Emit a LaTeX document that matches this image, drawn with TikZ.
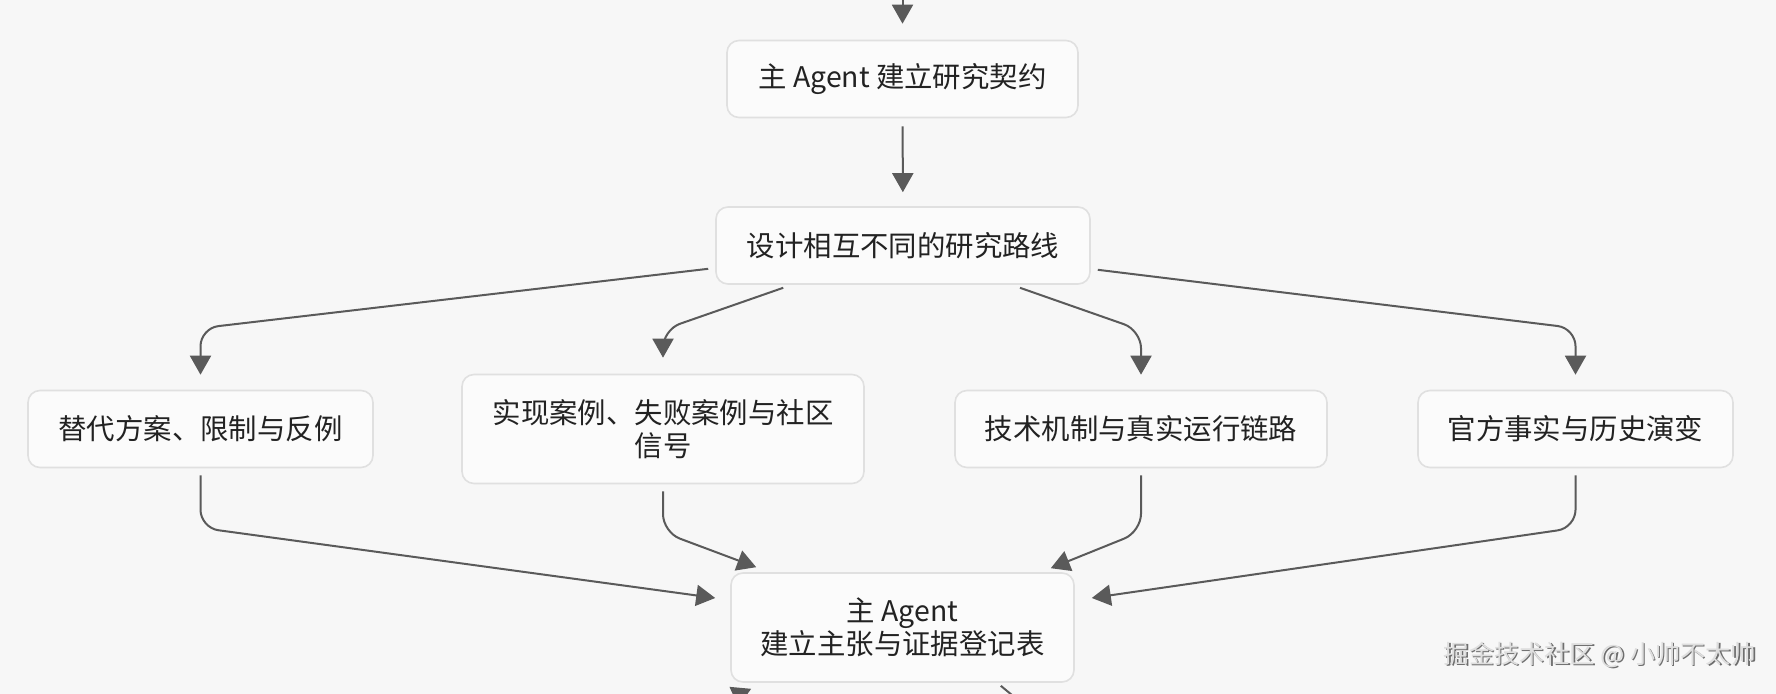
\documentclass[tikz,border=0pt]{standalone}
\usepackage{fontspec}
\setmainfont{Noto Sans CJK SC}
\usepackage{tikz}
\usetikzlibrary{arrows.meta,positioning}
\definecolor{bg}{HTML}{F7F7F7}
\definecolor{boxfill}{HTML}{FBFBFB}
\definecolor{boxline}{HTML}{E0E0E0}
\definecolor{flowline}{HTML}{5A5A5A}
\definecolor{textcol}{HTML}{222222}
\definecolor{markfg}{HTML}{DEDEDE}
\definecolor{markbg}{HTML}{6E6E6E}
\tikzset{
        % Step boxes
        node_box/.style={align=center, rectangle, rounded corners=6pt, draw=boxline, line width=0.8pt, fill=boxfill, text=textcol, inner sep=0pt, minimum height=38.5pt, font=\fontsize{14.2pt}{16.5pt}\selectfont},
        % Two-line step boxes
        node_tall/.style={node_box, minimum height=54.5pt},
        % Connectors
        line_flow/.style={->, draw=flowline, fill=none, line width=1pt, rounded corners=9pt},
        % Watermark text
        node_mark/.style={inner sep=0pt, font=\fontsize{12.6pt}{14pt}\selectfont}
}
\begin{document}
\begin{tikzpicture}[x=0.5pt, y=-0.5pt, >={Triangle[length=9.5pt,width=10.5pt]}]
    \fill[bg] (0,0) rectangle (1776,694);
    \useasboundingbox (0,0) rectangle (1776,694);
    \clip (0,0) rectangle (1776,694);

    \node[node_box, minimum width=175.5pt] (contract) at (902.5,79) {主 Agent 建立研究契约};
    \node[node_box, minimum width=187pt] (routes) at (903,245.5) {设计相互不同的研究路线};
    \node[node_box, minimum width=172.5pt] (alt) at (200.5,429) {替代方案、限制与反例};
    \node[node_tall, minimum width=201pt] (cases) at (663,429) {实现案例、失败案例与社区\\信号};
    \node[node_box, minimum width=186pt] (mech) at (1141,429) {技术机制与真实运行链路};
    \node[node_box, minimum width=157.5pt] (facts) at (1575.5,429) {官方事实与历史演变};
    \node[node_tall, minimum width=171.5pt] (register) at (902.5,627.5) {主 Agent\\建立主张与证据登记表};

    \coordinate (entry) at (902.5,-10);
    \coordinate (loop_in) at (700,712);
    \coordinate (loop_out) at (1030,710);

    \draw[line_flow, shorten >=8pt] (entry) -- (contract);
    \draw[line_flow, shorten <=4pt, shorten >=7pt] (contract) -- (routes);

    \draw[line_flow, shorten >=7.5pt] ([xshift=-3.5pt,yshift=8pt]routes.south west) -- ([yshift=30.75pt]alt.north) -- (alt.north);
    \draw[line_flow, shorten >=8pt] ([xshift=34pt,yshift=-1.5pt]routes.south west) -- ([yshift=22pt]cases.north) -- (cases.north);
    \draw[line_flow, shorten >=7.5pt] ([xshift=58.5pt,yshift=-1.5pt]routes.south) -- ([yshift=29.75pt]mech.north) -- (mech.north);
    \draw[line_flow, shorten >=7.5pt] ([xshift=3.5pt,yshift=7.5pt]routes.south east) -- ([yshift=30.75pt]facts.north) -- (facts.north);

    \draw[line_flow, shorten <=3.5pt] (alt.south) -- ([yshift=-29.75pt]alt.south) -- ([xshift=-7.5pt,yshift=14.75pt]register.west);
    \draw[line_flow, shorten <=3.5pt] (cases.south) -- ([yshift=-24pt]cases.south) -- ([xshift=13pt,yshift=2.5pt]register.north west);
    \draw[line_flow, shorten <=3.5pt] (mech.south) -- ([yshift=-31.75pt]mech.south) -- ([xshift=-12pt,yshift=2pt]register.north east);
    \draw[line_flow, shorten <=3.5pt] (facts.south) -- ([yshift=-29.75pt]facts.south) -- ([xshift=8.5pt,yshift=14.75pt]register.east);

    \draw[line_flow] (loop_in) -- ([xshift=10.5pt,yshift=-3pt]register.south west);
    \draw[line_flow, -] ([xshift=-37pt,yshift=-1.5pt]register.south east) -- (loop_out);

    \node[node_mark, text=markbg] (mark_shadow) at ([xshift=0.7pt,yshift=-0.7pt]1600,655) {掘金技术社区 @ 小帅不太帅};
    \node[node_mark, text=markfg] (mark) at (1600,655) {掘金技术社区 @ 小帅不太帅};
\end{tikzpicture}
\end{document}
